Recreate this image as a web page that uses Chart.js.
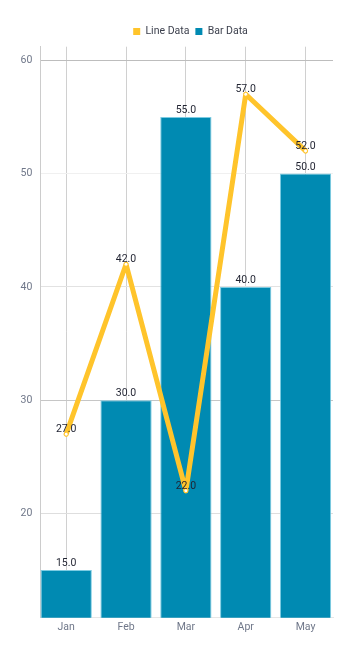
<!DOCTYPE html>
<html>
<head>
<meta charset="utf-8">
<script src="https://cdn.jsdelivr.net/npm/chart.js@4/dist/chart.umd.min.js"></script>
<style>
  html, body { margin: 0; padding: 0; background: #ffffff; }
  #wrap { width: 357px; height: 651px; position: relative; }
</style>
</head>
<body>
<div id="wrap"><canvas id="c"></canvas></div>
<script>
// ---- data ----
const months = ['Jan', 'Feb', 'Mar', 'Apr', 'May'];
const lineValues = [27, 42, 22, 57, 52];
const barValues = [15, 30, 55, 40, 50];
const yTicks = [20, 30, 40, 50, 60];
const lineLabel = 'Line Data';
const barLabel = 'Bar Data';

// ---- styles ----
const FONT = 'Roboto, "Noto Sans", sans-serif';
const YELLOW = '#FFC42B';
const BLUE = '#008AB2';
const AXIS_TEXT = '#6f7789';
const VALUE_TEXT = '#1f2230';

const gridColors = { 60: '#bdbdbd', 50: '#f0f0f0', 40: '#e2e2e2', 30: '#c6c6c6', 20: '#dedede' };

const valueLabels = {
  id: 'valueLabels',
  afterDatasetsDraw(chart) {
    const ctx = chart.ctx;
    ctx.save();
    ctx.font = '10.5px ' + FONT;
    ctx.fillStyle = VALUE_TEXT;
    ctx.textAlign = 'center';
    ctx.textBaseline = 'alphabetic';
    [1, 0].forEach(di => {
      const meta = chart.getDatasetMeta(di);
      const ds = chart.data.datasets[di];
      meta.data.forEach((el, i) => {
        const v = ds.data[i].y;
        const off = ds.type === 'bar' ? 4 : 2.2;
        ctx.fillText(v.toFixed(1), el.x, el.y - off);
      });
    });
    ctx.restore();
  }
};

new Chart(document.getElementById('c'), {
  type: 'bar',
  data: {
    datasets: [
      {
        type: 'line',
        label: lineLabel,
        data: lineValues.map((v, i) => ({ x: i, y: v })),
        borderColor: YELLOW,
        backgroundColor: YELLOW,
        borderWidth: 5,
        borderJoinStyle: 'round',
        borderCapStyle: 'round',
        tension: 0,
        pointRadius: 2,
        pointBorderWidth: 1,
        pointBackgroundColor: '#ffffff',
        pointBorderColor: YELLOW,
        fill: false
      },
      {
        type: 'bar',
        label: barLabel,
        data: barValues.map((v, i) => ({ x: i, y: v })),
        backgroundColor: BLUE,
        borderColor: '#7ccbe2',
        borderWidth: 1,
        barPercentage: 0.857,
        categoryPercentage: 1
      }
    ]
  },
  options: {
    responsive: true,
    maintainAspectRatio: false,
    animation: false,
    devicePixelRatio: 1,
    layout: { padding: { top: 20.2, left: 0, right: -24, bottom: 0 } },
    plugins: {
      tooltip: { enabled: false },
      legend: {
        position: 'top',
        labels: {
          boxWidth: 7,
          boxHeight: 7,
          padding: 6,
          color: '#3b3f4c',
          font: { family: FONT, size: 10.5 },
          generateLabels(chart) {
            const items = Chart.defaults.plugins.legend.labels.generateLabels(chart);
            items.forEach(it => {
              const ds = chart.data.datasets[it.datasetIndex];
              it.fillStyle = ds.type === 'line' ? ds.borderColor : ds.backgroundColor;
              it.strokeStyle = it.fillStyle;
              it.lineWidth = 0;
            });
            return items;
          }
        }
      }
    },
    scales: {
      x: {
        type: 'linear',
        offset: false,
        min: -0.438,
        max: 4.459,
        afterFit(s) { s.height = 33.3; },
        afterBuildTicks(s) { s.ticks = months.map((m, i) => ({ value: i })); },
        ticks: {
          includeBounds: false,
          padding: 3,
          color: AXIS_TEXT,
          font: { family: FONT, size: 10.5 },
          callback: (v) => months[v]
        },
        grid: { offset: false, color: '#d0d0d0', drawTicks: false, lineWidth: 1 },
        border: { display: true, color: '#e6e6e6' }
      },
      y: {
        type: 'linear',
        min: 10.8,
        max: 61.2,
        position: 'left',
        afterFit(s) { s.width = 40; },
        afterBuildTicks(s) { s.ticks = yTicks.map(v => ({ value: v })); },
        ticks: {
          includeBounds: false,
          padding: 7.7,
          color: AXIS_TEXT,
          font: { family: FONT, size: 10.5 },
          callback: (v) => String(v)
        },
        grid: {
          drawTicks: false,
          color: (c) => (c.tick && gridColors[c.tick.value]) || '#e2e2e2'
        },
        border: { display: true, color: '#cccccc' }
      },
      yRight: {
        type: 'linear',
        position: 'right',
        display: true,
        afterFit(s) { s.width = 48; },
        ticks: { display: false },
        grid: { display: false, drawTicks: false },
        border: { display: false }
      }
    }
  },
  plugins: [valueLabels]
});
</script>
</body>
</html>
